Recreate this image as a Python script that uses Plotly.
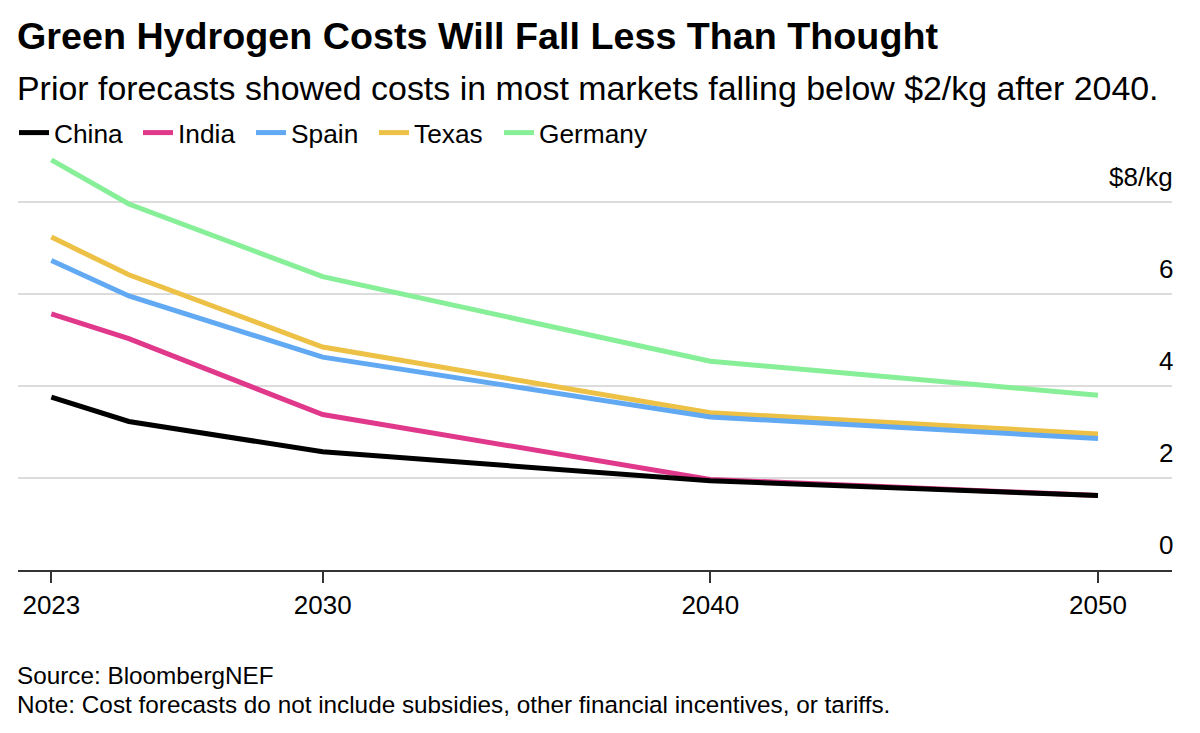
import plotly.graph_objects as go

years = [2023, 2025, 2030, 2040, 2050]
series_names = ["China", "India", "Spain", "Texas", "Germany"]
china = [3.76, 3.23, 2.57, 1.94, 1.62]
india = [5.57, 5.03, 3.38, 1.97, 1.62]
spain = [6.73, 5.96, 4.63, 3.33, 2.86]
texas = [7.24, 6.42, 4.85, 3.42, 2.96]
germany = [8.92, 7.96, 6.38, 4.54, 3.80]
colors = ["#000000", "#e0388b", "#62a9f4", "#ecc145", "#86ef97"]

x_ticks = [2023, 2030, 2040, 2050]
y_ticks = [0, 2, 4, 6, 8]
y_tick_labels = ["0", "2", "4", "6", "$8/kg"]

FONT = "Liberation Sans"
W, H = 1200, 733
L, R, T, B = 18, 28, 147, 163
PH = H - T - B
PW = W - L - R

def py(p):
    return (H - B - p) / PH

def px(p):
    return (p - L) / PW

# legend entry left positions (pixels) - one legend per series
legend_px = [14, 138, 251, 374, 499]

fig = go.Figure()
series = list(zip(series_names, [china, india, spain, texas, germany], colors))
legend_ids = ["legend", "legend2", "legend3", "legend4", "legend5"]
# draw in reverse so China ends on top
for i in reversed(range(len(series))):
    name, vals, col = series[i]
    fig.add_trace(go.Scatter(x=years, y=vals, name=name, mode="lines",
                             line=dict(color=col, width=5), legend=legend_ids[i]))

layout_legends = {}
for i, lid in enumerate(legend_ids):
    layout_legends[lid] = dict(orientation="h", x=px(legend_px[i]), xanchor="left",
                               y=py(133), yanchor="middle",
                               font=dict(size=26.3, family=FONT, color="#000000"),
                               itemwidth=30, bgcolor="rgba(0,0,0,0)")

fig.update_layout(
    width=W, height=H,
    margin=dict(l=L, r=R, t=T, b=B),
    paper_bgcolor="white", plot_bgcolor="white",
    font=dict(family=FONT, color="#000000"),
    showlegend=True,
    xaxis=dict(range=[2022.14, 2051.91], tickvals=x_ticks, ticktext=[str(v) for v in x_ticks],
               showgrid=False, zeroline=False, showline=True, linecolor="#333333", linewidth=1.5,
               ticks="outside", ticklen=11, tickwidth=1.5, tickcolor="#333333",
               tickfont=dict(size=26, family=FONT), fixedrange=True),
    yaxis=dict(range=[0, 9.2], tickvals=y_ticks[1:], showticklabels=False,
               showgrid=True, gridcolor="#dcdcdc", gridwidth=1.5, zeroline=False,
               showline=False, fixedrange=True),
    **layout_legends,
)

for v, lab in zip(y_ticks, y_tick_labels):
    fig.add_annotation(x=1.0, xref="paper", xanchor="right", y=v, yref="y", yanchor="middle",
                       yshift=25, xshift=3, text=lab, showarrow=False,
                       font=dict(size=26, family=FONT, color="#000000"))

fig.add_annotation(x=0, xref="paper", xanchor="left", y=py(36), yref="paper", yanchor="middle",
                   text="<b>Green Hydrogen Costs Will Fall Less Than Thought</b>", showarrow=False,
                   font=dict(size=37.7, family=FONT, color="#000000"), xshift=-3)
fig.add_annotation(x=0, xref="paper", xanchor="left", y=py(88), yref="paper", yanchor="middle",
                   text="Prior forecasts showed costs in most markets falling below $2/kg after 2040.",
                   showarrow=False, font=dict(size=33.9, family=FONT, color="#000000"), xshift=-3)
fig.add_annotation(x=0, xref="paper", xanchor="left", y=py(675), yref="paper", yanchor="middle",
                   text="Source: BloombergNEF", showarrow=False,
                   font=dict(size=24.3, family=FONT, color="#000000"), xshift=-3)
fig.add_annotation(x=0, xref="paper", xanchor="left", y=py(704), yref="paper", yanchor="middle",
                   text="Note: Cost forecasts do not include subsidies, other financial incentives, or tariffs.",
                   showarrow=False, font=dict(size=24.3, family=FONT, color="#000000"), xshift=-3)

fig.write_html("out.html")
